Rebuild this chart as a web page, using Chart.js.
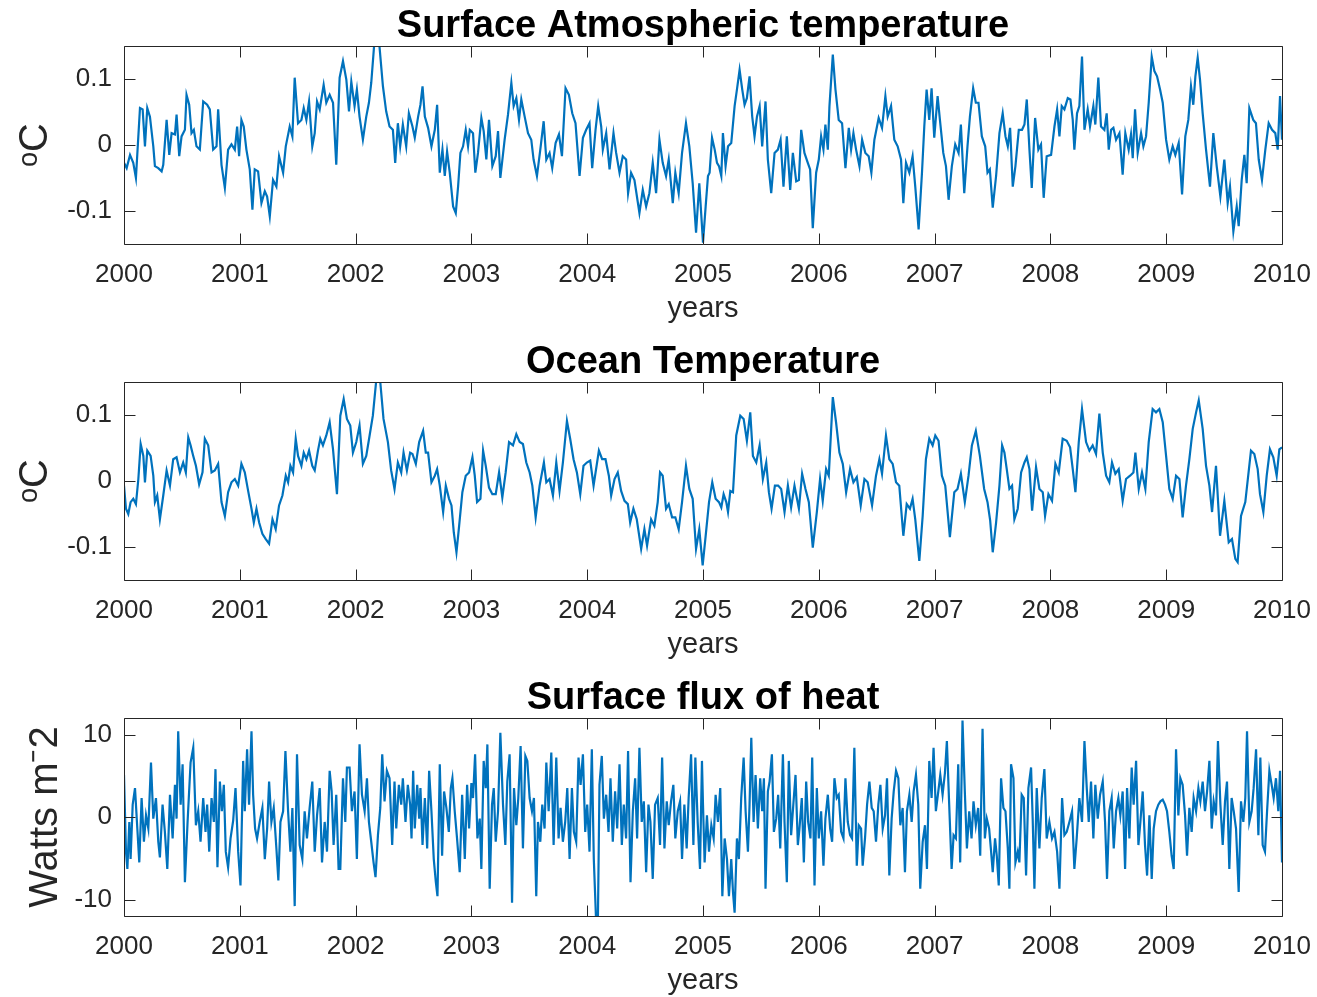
<!DOCTYPE html>
<html lang="en">
<head>
  <meta charset="UTF-8" />
  <title>Surface temperature, ocean temperature and heat flux 2000–2010</title>
  <script src="https://cdn.jsdelivr.net/npm/chart.js"></script>
  <style>
    body {
      margin: 0;
      background: #ffffff;
      width: 1317px;
      height: 997px;
      overflow: hidden;
      position: relative;
    }

    .panel {
      position: absolute;
      left: 0;
      width: 1317px;
      height: 332px;
    }
  </style>
</head>
<body>

  <div class="panel" style="top:0"><canvas id="atmChart" width="1317" height="332"></canvas></div>
  <div class="panel" style="top:336px"><canvas id="oceanChart" width="1317" height="332"></canvas></div>
  <div class="panel" style="top:672px"><canvas id="fluxChart" width="1317" height="332"></canvas></div>

  <script>
    // tick labels
    const yearTicks = [2000, 2001, 2002, 2003, 2004, 2005, 2006, 2007, 2008, 2009, 2010];
    const tempTicks = [-0.1, 0, 0.1];
    const fluxTicks = [-10, 0, 10];

    // [year, °C]
    const atmPoints = [
      [2000.000,-0.027],[2000.023,-0.035],[2000.052,-0.015],[2000.080,-0.027],[2000.103,-0.050],[2000.138,0.056],
      [2000.161,0.054],[2000.181,-0.002],[2000.201,0.056],[2000.224,0.043],[2000.253,-0.002],[2000.267,-0.032],
      [2000.296,-0.035],[2000.325,-0.040],[2000.339,-0.030],[2000.368,0.038],[2000.391,-0.015],[2000.411,0.018],
      [2000.440,0.016],[2000.454,0.046],[2000.477,-0.017],[2000.497,0.013],[2000.526,0.023],[2000.540,0.076],
      [2000.563,0.061],[2000.583,0.018],[2000.603,0.023],[2000.626,-0.002],[2000.655,-0.007],[2000.684,0.066],
      [2000.718,0.061],[2000.741,0.054],[2000.770,-0.007],[2000.799,-0.002],[2000.813,0.054],[2000.842,-0.030],
      [2000.871,-0.065],[2000.899,-0.007],[2000.928,0.001],[2000.957,-0.007],[2000.977,0.028],[2000.994,-0.017],
      [2001.014,0.038],[2001.034,0.028],[2001.057,-0.007],[2001.086,-0.037],[2001.109,-0.098],[2001.129,-0.037],
      [2001.158,-0.040],[2001.187,-0.088],[2001.216,-0.070],[2001.236,-0.078],[2001.259,-0.108],[2001.287,-0.053],
      [2001.316,-0.063],[2001.339,-0.017],[2001.374,-0.042],[2001.397,-0.002],[2001.431,0.028],[2001.454,0.013],
      [2001.474,0.102],[2001.503,0.033],[2001.532,0.038],[2001.552,0.056],[2001.575,0.038],[2001.598,0.066],
      [2001.626,-0.002],[2001.647,0.018],[2001.667,0.066],[2001.690,0.054],[2001.724,0.091],[2001.747,0.064],
      [2001.776,0.076],[2001.805,0.064],[2001.833,-0.030],[2001.862,0.102],[2001.891,0.127],[2001.920,0.099],
      [2001.943,0.051],[2001.963,0.096],[2001.991,0.059],[2002.011,0.084],[2002.034,0.043],[2002.063,0.008],
      [2002.092,0.043],[2002.115,0.064],[2002.135,0.094],[2002.164,0.160],[2002.201,0.160],[2002.236,0.089],
      [2002.264,0.051],[2002.293,0.028],[2002.322,0.023],[2002.342,-0.027],[2002.365,0.033],[2002.385,-0.002],
      [2002.408,0.031],[2002.437,-0.002],[2002.460,0.048],[2002.491,0.028],[2002.511,0.011],[2002.540,0.043],
      [2002.560,0.061],[2002.578,0.089],[2002.598,0.043],[2002.626,0.026],[2002.655,-0.002],[2002.684,0.023],
      [2002.704,0.061],[2002.727,-0.042],[2002.750,-0.007],[2002.770,-0.047],[2002.790,-0.010],[2002.813,-0.042],
      [2002.842,-0.093],[2002.865,-0.103],[2002.885,-0.063],[2002.905,-0.012],[2002.928,-0.002],[2002.951,0.023],
      [2002.971,-0.002],[2002.986,0.023],[2003.014,0.018],[2003.034,-0.042],[2003.057,-0.012],[2003.086,0.041],
      [2003.106,0.021],[2003.129,-0.022],[2003.152,0.038],[2003.181,-0.032],[2003.210,-0.017],[2003.230,0.021],
      [2003.250,-0.050],[2003.287,0.008],[2003.316,0.046],[2003.345,0.094],[2003.365,0.059],[2003.388,0.071],
      [2003.411,0.038],[2003.431,0.069],[2003.460,0.043],[2003.489,0.018],[2003.517,0.008],[2003.537,-0.022],
      [2003.566,-0.047],[2003.595,-0.007],[2003.624,0.036],[2003.647,-0.022],[2003.675,-0.012],[2003.698,-0.035],
      [2003.727,0.003],[2003.756,0.016],[2003.782,-0.017],[2003.813,0.086],[2003.842,0.076],[2003.871,0.048],
      [2003.899,0.033],[2003.934,-0.047],[2003.963,0.011],[2003.991,0.023],[2004.020,0.033],[2004.043,-0.035],
      [2004.072,0.023],[2004.095,0.059],[2004.121,0.028],[2004.135,-0.007],[2004.164,0.018],[2004.193,-0.037],
      [2004.227,0.018],[2004.250,-0.012],[2004.279,-0.042],[2004.307,-0.017],[2004.336,-0.022],[2004.353,-0.073],
      [2004.379,-0.042],[2004.408,-0.053],[2004.451,-0.103],[2004.480,-0.068],[2004.509,-0.093],[2004.537,-0.073],
      [2004.566,-0.027],[2004.595,-0.073],[2004.624,0.008],[2004.652,-0.027],[2004.681,-0.047],[2004.704,-0.022],
      [2004.739,-0.088],[2004.761,-0.042],[2004.790,-0.073],[2004.819,-0.012],[2004.853,0.033],[2004.882,-0.002],
      [2004.911,-0.058],[2004.940,-0.133],[2004.968,-0.058],[2005.000,-0.148],[2005.023,-0.093],[2005.043,-0.047],
      [2005.057,-0.042],[2005.078,0.011],[2005.101,-0.007],[2005.121,-0.027],[2005.138,-0.032],[2005.158,-0.047],
      [2005.172,0.018],[2005.195,-0.032],[2005.216,-0.002],[2005.244,0.003],[2005.273,0.059],[2005.293,0.084],
      [2005.316,0.114],[2005.339,0.084],[2005.359,0.061],[2005.379,0.071],[2005.402,0.104],[2005.425,0.043],
      [2005.445,0.013],[2005.466,0.043],[2005.489,0.059],[2005.511,-0.002],[2005.540,0.066],[2005.560,-0.022],
      [2005.589,-0.073],[2005.618,-0.012],[2005.647,-0.007],[2005.670,0.008],[2005.695,-0.063],[2005.724,0.013],
      [2005.753,-0.068],[2005.776,-0.012],[2005.805,-0.055],[2005.828,-0.053],[2005.848,0.023],[2005.876,-0.012],
      [2005.905,-0.027],[2005.925,-0.037],[2005.948,-0.126],[2005.977,-0.042],[2006.000,-0.022],[2006.020,0.013],
      [2006.040,-0.007],[2006.057,0.031],[2006.078,-0.007],[2006.092,0.059],[2006.121,0.137],[2006.144,0.084],
      [2006.172,0.038],[2006.201,0.033],[2006.230,-0.035],[2006.259,0.026],[2006.279,-0.007],[2006.299,0.018],
      [2006.322,-0.007],[2006.351,-0.032],[2006.374,0.008],[2006.402,-0.012],[2006.431,-0.017],[2006.454,-0.042],
      [2006.480,0.008],[2006.517,0.041],[2006.546,0.026],[2006.575,0.074],[2006.595,0.043],[2006.624,0.059],
      [2006.652,0.008],[2006.681,-0.002],[2006.710,-0.022],[2006.730,-0.088],[2006.753,-0.027],[2006.782,-0.042],
      [2006.810,-0.017],[2006.833,-0.063],[2006.862,-0.128],[2006.891,-0.042],[2006.911,0.028],[2006.931,0.084],
      [2006.954,0.038],[2006.974,0.086],[2006.997,0.011],[2007.026,0.074],[2007.046,0.038],[2007.075,-0.012],
      [2007.098,-0.032],[2007.121,-0.083],[2007.149,-0.032],[2007.178,0.001],[2007.207,-0.012],[2007.227,0.031],
      [2007.256,-0.073],[2007.284,-0.002],[2007.305,0.043],[2007.333,0.086],[2007.356,0.064],[2007.379,0.064],
      [2007.408,0.013],[2007.437,-0.002],[2007.457,-0.042],[2007.477,-0.037],[2007.502,-0.095],[2007.531,-0.047],
      [2007.560,0.018],[2007.588,0.048],[2007.612,0.013],[2007.632,-0.002],[2007.652,0.026],[2007.675,-0.063],
      [2007.698,-0.032],[2007.727,0.023],[2007.755,0.023],[2007.776,0.031],[2007.796,0.069],[2007.819,-0.007],
      [2007.839,-0.065],[2007.868,0.041],[2007.896,-0.007],[2007.919,0.001],[2007.942,-0.080],[2007.968,-0.017],
      [2008.006,-0.015],[2008.035,0.028],[2008.058,0.054],[2008.078,0.013],[2008.098,0.059],[2008.121,0.054],
      [2008.150,0.071],[2008.173,0.069],[2008.193,0.038],[2008.207,-0.007],[2008.230,0.048],[2008.250,0.059],
      [2008.273,0.134],[2008.294,0.023],[2008.322,0.054],[2008.342,0.028],[2008.371,0.059],[2008.388,0.031],
      [2008.414,0.102],[2008.437,0.028],[2008.466,0.023],[2008.486,0.048],[2008.504,-0.007],[2008.524,0.023],
      [2008.544,0.026],[2008.567,0.008],[2008.596,0.018],[2008.624,-0.045],[2008.647,0.018],[2008.676,-0.007],
      [2008.696,0.016],[2008.711,-0.020],[2008.731,0.054],[2008.754,-0.012],[2008.783,0.018],[2008.803,-0.002],
      [2008.826,0.013],[2008.849,0.064],[2008.875,0.134],[2008.898,0.112],[2008.921,0.104],[2008.947,0.084],
      [2008.970,0.064],[2008.999,0.008],[2009.027,-0.022],[2009.056,-0.002],[2009.079,-0.015],[2009.108,0.003],
      [2009.137,-0.075],[2009.165,0.013],[2009.191,0.038],[2009.214,0.089],[2009.234,0.061],[2009.252,0.104],
      [2009.272,0.132],[2009.292,0.099],[2009.315,0.048],[2009.344,-0.007],[2009.378,-0.063],[2009.407,0.018],
      [2009.436,-0.032],[2009.468,-0.078],[2009.502,-0.022],[2009.531,-0.088],[2009.551,-0.063],[2009.580,-0.131],
      [2009.609,-0.093],[2009.626,-0.123],[2009.652,-0.053],[2009.675,-0.015],[2009.695,-0.058],[2009.718,0.056],
      [2009.752,0.038],[2009.775,0.033],[2009.799,-0.022],[2009.827,-0.053],[2009.856,-0.007],[2009.885,0.033],
      [2009.914,0.023],[2009.942,0.018],[2009.963,-0.007],[2009.983,0.074],[2010.000,0.008]
    ];

    // [year, °C]
    const oceanPoints = [
      [2000.000,-0.007],[2000.017,-0.042],[2000.037,-0.050],[2000.057,-0.032],[2000.080,-0.027],[2000.103,-0.035],
      [2000.124,0.003],[2000.144,0.056],[2000.167,0.038],[2000.181,-0.002],[2000.201,0.046],[2000.230,0.038],
      [2000.253,0.008],[2000.267,-0.032],[2000.287,-0.022],[2000.310,-0.058],[2000.339,-0.022],[2000.368,0.016],
      [2000.397,-0.007],[2000.425,0.033],[2000.454,0.036],[2000.483,0.013],[2000.511,0.028],[2000.534,0.013],
      [2000.555,0.066],[2000.575,0.054],[2000.598,0.038],[2000.621,0.023],[2000.649,-0.005],[2000.678,0.013],
      [2000.698,0.064],[2000.727,0.054],[2000.756,0.013],[2000.784,0.016],[2000.813,0.026],[2000.842,-0.032],
      [2000.871,-0.053],[2000.899,-0.017],[2000.928,-0.002],[2000.957,0.003],[2000.986,-0.007],[2001.014,0.026],
      [2001.043,0.013],[2001.072,-0.015],[2001.101,-0.042],[2001.121,-0.063],[2001.144,-0.042],[2001.167,-0.063],
      [2001.195,-0.080],[2001.224,-0.088],[2001.253,-0.095],[2001.282,-0.058],[2001.310,-0.073],[2001.339,-0.037],
      [2001.368,-0.022],[2001.397,0.008],[2001.417,-0.002],[2001.437,0.023],[2001.460,0.013],[2001.483,0.064],
      [2001.503,0.038],[2001.532,0.023],[2001.552,0.043],[2001.575,0.033],[2001.598,0.046],[2001.626,0.023],
      [2001.647,0.016],[2001.675,0.046],[2001.695,0.064],[2001.718,0.054],[2001.747,0.069],[2001.776,0.089],
      [2001.805,0.048],[2001.839,-0.020],[2001.868,0.099],[2001.897,0.124],[2001.925,0.094],[2001.954,0.084],
      [2001.977,0.043],[2002.006,0.059],[2002.034,0.084],[2002.063,0.026],[2002.092,0.038],[2002.121,0.069],
      [2002.149,0.099],[2002.178,0.152],[2002.213,0.150],[2002.241,0.094],[2002.279,0.059],[2002.307,0.016],
      [2002.336,-0.012],[2002.365,0.028],[2002.394,0.013],[2002.414,0.043],[2002.443,0.016],[2002.471,0.043],
      [2002.491,0.041],[2002.520,0.026],[2002.549,0.059],[2002.583,0.076],[2002.606,0.043],[2002.626,0.043],
      [2002.655,-0.002],[2002.684,0.008],[2002.704,0.018],[2002.727,-0.007],[2002.756,-0.047],[2002.779,-0.007],
      [2002.807,-0.027],[2002.828,-0.037],[2002.848,-0.078],[2002.871,-0.108],[2002.894,-0.068],[2002.922,-0.017],
      [2002.951,0.008],[2002.980,0.013],[2003.009,0.036],[2003.029,0.008],[2003.049,-0.032],[2003.078,-0.027],
      [2003.101,0.046],[2003.124,0.023],[2003.152,-0.010],[2003.181,-0.020],[2003.210,-0.020],[2003.239,0.013],
      [2003.267,-0.025],[2003.296,0.013],[2003.325,0.059],[2003.359,0.054],[2003.388,0.071],[2003.417,0.059],
      [2003.445,0.056],[2003.474,0.028],[2003.503,0.013],[2003.526,-0.007],[2003.555,-0.055],[2003.589,-0.007],
      [2003.626,0.028],[2003.647,-0.002],[2003.675,0.003],[2003.704,-0.022],[2003.733,0.028],[2003.761,-0.015],
      [2003.790,0.028],[2003.825,0.091],[2003.853,0.064],[2003.882,0.033],[2003.911,0.013],[2003.940,-0.020],
      [2003.968,0.023],[2003.997,0.028],[2004.026,0.031],[2004.055,-0.007],[2004.101,0.046],[2004.129,0.033],
      [2004.158,0.033],[2004.187,0.008],[2004.207,-0.022],[2004.236,0.003],[2004.264,0.013],[2004.293,-0.015],
      [2004.322,-0.030],[2004.351,-0.035],[2004.371,-0.063],[2004.399,-0.042],[2004.428,-0.058],[2004.466,-0.103],
      [2004.494,-0.073],[2004.517,-0.098],[2004.552,-0.058],[2004.580,-0.068],[2004.609,-0.032],[2004.629,0.013],
      [2004.652,0.008],[2004.681,-0.042],[2004.704,-0.035],[2004.733,-0.055],[2004.761,-0.055],[2004.790,-0.073],
      [2004.819,-0.032],[2004.853,0.023],[2004.882,-0.012],[2004.911,-0.027],[2004.940,-0.103],[2004.968,-0.073],
      [2004.997,-0.128],[2005.023,-0.083],[2005.052,-0.032],[2005.080,-0.002],[2005.109,-0.027],[2005.138,-0.032],
      [2005.158,-0.040],[2005.178,-0.020],[2005.201,-0.032],[2005.216,-0.047],[2005.236,-0.015],[2005.259,-0.017],
      [2005.287,0.069],[2005.322,0.099],[2005.351,0.094],[2005.379,0.061],[2005.408,0.104],[2005.431,0.038],
      [2005.460,0.028],[2005.489,0.054],[2005.517,0.003],[2005.546,0.028],[2005.569,-0.017],[2005.592,-0.042],
      [2005.621,-0.007],[2005.649,-0.007],[2005.675,-0.012],[2005.704,-0.047],[2005.733,-0.007],[2005.761,-0.040],
      [2005.790,-0.007],[2005.828,-0.042],[2005.856,0.011],[2005.885,-0.012],[2005.914,-0.032],[2005.948,-0.101],
      [2005.983,-0.047],[2006.011,0.003],[2006.034,-0.030],[2006.063,0.018],[2006.086,0.008],[2006.121,0.127],
      [2006.149,0.089],[2006.178,0.043],[2006.207,0.026],[2006.236,-0.017],[2006.270,0.018],[2006.299,-0.002],
      [2006.328,0.006],[2006.362,-0.037],[2006.394,0.003],[2006.422,-0.002],[2006.460,-0.037],[2006.494,0.008],
      [2006.523,0.033],[2006.546,0.011],[2006.580,0.069],[2006.609,0.033],[2006.638,0.026],[2006.667,-0.002],
      [2006.695,-0.007],[2006.730,-0.083],[2006.759,-0.035],[2006.787,-0.042],[2006.810,-0.027],[2006.833,-0.058],
      [2006.868,-0.121],[2006.897,-0.053],[2006.925,0.033],[2006.954,0.064],[2006.983,0.054],[2007.006,0.069],
      [2007.034,0.061],[2007.063,0.008],[2007.092,-0.007],[2007.132,-0.085],[2007.170,-0.017],[2007.198,-0.012],
      [2007.227,0.011],[2007.261,-0.032],[2007.293,0.008],[2007.322,0.054],[2007.356,0.076],[2007.391,0.038],
      [2007.428,-0.012],[2007.457,-0.032],[2007.480,-0.060],[2007.502,-0.108],[2007.531,-0.063],[2007.560,-0.007],
      [2007.583,0.054],[2007.603,0.043],[2007.623,0.018],[2007.646,-0.012],[2007.669,-0.007],[2007.689,-0.058],
      [2007.718,-0.042],[2007.747,0.013],[2007.776,0.028],[2007.796,0.036],[2007.819,0.018],[2007.842,-0.045],
      [2007.876,0.021],[2007.905,-0.012],[2007.934,-0.017],[2007.954,-0.053],[2007.983,-0.020],[2008.014,-0.030],
      [2008.043,0.026],[2008.072,0.013],[2008.106,0.064],[2008.141,0.061],[2008.170,0.051],[2008.193,0.018],
      [2008.216,-0.017],[2008.245,0.059],[2008.273,0.109],[2008.308,0.059],[2008.337,0.046],[2008.365,0.054],
      [2008.394,0.041],[2008.423,0.102],[2008.452,0.043],[2008.481,0.008],[2008.509,-0.002],[2008.532,0.028],
      [2008.561,0.011],[2008.590,0.018],[2008.624,-0.030],[2008.653,0.003],[2008.688,0.008],[2008.717,0.013],
      [2008.734,0.043],[2008.763,-0.012],[2008.791,0.013],[2008.820,-0.012],[2008.849,0.059],[2008.883,0.109],
      [2008.912,0.104],[2008.941,0.109],[2008.970,0.089],[2008.999,0.038],[2009.027,-0.012],[2009.056,-0.027],
      [2009.085,0.008],[2009.114,0.003],[2009.142,-0.055],[2009.171,-0.007],[2009.200,0.033],[2009.229,0.079],
      [2009.258,0.104],[2009.281,0.122],[2009.315,0.079],[2009.344,0.023],[2009.373,-0.007],[2009.396,-0.047],
      [2009.430,0.023],[2009.465,-0.083],[2009.502,-0.030],[2009.540,-0.093],[2009.568,-0.088],[2009.597,-0.118],
      [2009.617,-0.123],[2009.646,-0.053],[2009.683,-0.032],[2009.732,0.046],[2009.761,0.041],[2009.790,0.018],
      [2009.810,-0.020],[2009.839,-0.047],[2009.868,0.008],[2009.896,0.048],[2009.925,0.036],[2009.954,0.008],
      [2009.977,0.048],[2010.000,0.051]
    ];

    // [year, W m-2]
    const fluxPoints = [
      [2000.000,5.1],[2000.017,-4.2],[2000.029,-6.3],[2000.046,-0.6],[2000.057,-5.1],[2000.075,1.5],[2000.095,3.5],
      [2000.115,-1.4],[2000.132,-5.5],[2000.152,2.3],[2000.172,-3.0],[2000.190,0.2],[2000.210,-1.4],[2000.233,6.6],
      [2000.253,-0.2],[2000.276,2.3],[2000.296,-3.0],[2000.310,-4.9],[2000.333,1.5],[2000.353,-1.8],[2000.374,-6.3],
      [2000.397,2.7],[2000.420,-2.6],[2000.440,3.9],[2000.454,-0.2],[2000.468,10.4],[2000.489,1.5],[2000.506,6.4],
      [2000.526,-7.9],[2000.549,-0.6],[2000.575,6.6],[2000.598,8.4],[2000.621,-1.0],[2000.641,0.7],[2000.661,-3.0],
      [2000.684,2.3],[2000.704,-1.8],[2000.718,1.5],[2000.736,-4.2],[2000.756,2.3],[2000.776,-0.6],[2000.790,5.8],
      [2000.807,-6.1],[2000.828,4.3],[2000.845,0.7],[2000.862,3.9],[2000.879,-4.2],[2000.899,-6.1],[2000.920,-2.6],
      [2000.943,-0.4],[2000.963,3.5],[2000.986,-4.2],[2001.006,-8.3],[2001.029,6.8],[2001.043,0.7],[2001.063,8.2],
      [2001.080,1.5],[2001.101,10.4],[2001.115,2.7],[2001.132,-1.4],[2001.149,-2.6],[2001.172,-0.6],[2001.195,1.1],
      [2001.216,-5.1],[2001.236,-1.4],[2001.253,4.3],[2001.273,-0.6],[2001.293,1.1],[2001.316,-3.8],[2001.333,-7.7],
      [2001.351,-0.6],[2001.374,0.7],[2001.394,8.0],[2001.417,0.7],[2001.437,-4.2],[2001.454,1.1],[2001.474,-10.8],
      [2001.494,7.6],[2001.517,-3.4],[2001.540,-5.1],[2001.560,0.7],[2001.580,-2.6],[2001.603,1.1],[2001.626,4.3],
      [2001.647,-4.2],[2001.667,0.2],[2001.690,3.5],[2001.710,-5.5],[2001.733,-0.6],[2001.753,-4.2],[2001.776,5.6],
      [2001.793,3.1],[2001.810,-3.4],[2001.833,2.7],[2001.853,-6.3],[2001.868,-6.3],[2001.891,4.7],[2001.911,-0.6],
      [2001.925,6.0],[2001.948,6.0],[2001.968,0.7],[2001.991,3.1],[2002.011,-5.1],[2002.034,8.8],[2002.055,2.7],
      [2002.078,0.7],[2002.098,4.7],[2002.115,-0.6],[2002.135,-3.0],[2002.155,-5.5],[2002.172,-7.3],[2002.193,-2.2],
      [2002.213,1.1],[2002.230,7.6],[2002.250,1.9],[2002.270,5.6],[2002.293,4.7],[2002.316,-3.4],[2002.336,4.3],
      [2002.351,-1.4],[2002.374,3.9],[2002.394,1.5],[2002.408,4.7],[2002.431,-0.6],[2002.451,3.9],[2002.471,1.5],
      [2002.483,-2.6],[2002.497,5.6],[2002.511,-1.4],[2002.532,3.9],[2002.549,-0.2],[2002.560,3.5],[2002.578,-3.4],
      [2002.598,2.3],[2002.618,-3.8],[2002.635,5.6],[2002.655,0.7],[2002.675,-5.1],[2002.693,-7.9],[2002.707,-9.6],
      [2002.727,6.4],[2002.747,-4.7],[2002.764,3.1],[2002.784,1.1],[2002.805,-1.8],[2002.822,3.5],[2002.836,4.7],
      [2002.856,0.7],[2002.876,-2.6],[2002.899,-6.7],[2002.920,2.7],[2002.943,-5.1],[2002.963,3.9],[2002.980,-1.4],
      [2003.000,4.1],[2003.014,2.3],[2003.032,7.6],[2003.052,-2.6],[2003.072,-0.2],[2003.086,-6.3],[2003.106,6.8],
      [2003.124,3.5],[2003.138,8.8],[2003.158,-8.7],[2003.178,1.5],[2003.193,3.5],[2003.210,-3.0],[2003.230,0.7],
      [2003.250,10.2],[2003.273,1.5],[2003.293,-3.4],[2003.310,4.3],[2003.330,7.6],[2003.351,-10.4],[2003.368,3.5],
      [2003.388,-1.0],[2003.405,2.3],[2003.425,8.6],[2003.445,-3.8],[2003.466,7.4],[2003.483,6.8],[2003.503,2.3],
      [2003.523,0.7],[2003.540,2.3],[2003.560,-9.6],[2003.575,-0.6],[2003.595,-3.0],[2003.612,1.5],[2003.632,-1.4],
      [2003.647,6.6],[2003.667,0.7],[2003.690,7.8],[2003.710,-3.4],[2003.733,7.2],[2003.753,-2.6],[2003.770,1.1],
      [2003.790,-3.0],[2003.810,-0.6],[2003.828,3.5],[2003.848,-5.1],[2003.868,3.5],[2003.885,-1.8],[2003.905,-3.0],
      [2003.925,7.2],[2003.943,3.9],[2003.963,7.6],[2003.983,-1.8],[2004.000,1.5],[2004.020,-4.2],[2004.040,8.2],
      [2004.057,-5.1],[2004.078,-13.0],[2004.092,-13.0],[2004.106,3.9],[2004.126,7.4],[2004.144,-0.2],[2004.164,2.7],
      [2004.184,-1.8],[2004.201,4.7],[2004.221,-3.0],[2004.241,3.1],[2004.259,-1.4],[2004.279,6.4],[2004.299,-3.4],
      [2004.316,1.5],[2004.336,-2.6],[2004.353,8.0],[2004.374,-7.9],[2004.394,0.7],[2004.414,4.7],[2004.431,-2.6],
      [2004.451,8.4],[2004.471,-0.6],[2004.489,1.9],[2004.509,-6.7],[2004.529,1.5],[2004.546,-0.6],[2004.566,-7.5],
      [2004.586,1.5],[2004.609,2.3],[2004.629,-3.4],[2004.647,7.2],[2004.667,-3.8],[2004.687,1.9],[2004.704,-1.0],
      [2004.724,1.9],[2004.744,3.9],[2004.761,-2.6],[2004.782,0.7],[2004.802,1.9],[2004.819,-5.1],[2004.839,1.5],
      [2004.859,-3.8],[2004.876,2.3],[2004.897,7.6],[2004.917,-3.4],[2004.934,7.2],[2004.954,-0.6],[2004.974,-6.3],
      [2004.991,6.8],[2005.000,1.5],[2005.014,-5.5],[2005.034,0.2],[2005.052,-4.2],[2005.072,-1.0],[2005.092,-2.6],
      [2005.109,2.7],[2005.129,-0.6],[2005.149,3.5],[2005.167,-9.6],[2005.187,-2.6],[2005.207,-5.1],[2005.224,-9.6],
      [2005.244,-5.1],[2005.259,-9.1],[2005.273,-11.6],[2005.293,-2.6],[2005.310,-5.1],[2005.330,2.3],[2005.351,7.2],
      [2005.368,0.7],[2005.388,-4.2],[2005.402,1.5],[2005.417,9.6],[2005.437,-0.6],[2005.454,5.1],[2005.474,-1.4],
      [2005.494,4.7],[2005.511,0.7],[2005.526,4.7],[2005.540,-8.7],[2005.560,3.1],[2005.575,4.3],[2005.595,7.6],
      [2005.612,-1.8],[2005.632,-0.2],[2005.649,2.7],[2005.667,-3.8],[2005.690,7.6],[2005.704,-0.6],[2005.724,-7.9],
      [2005.741,6.8],[2005.761,-2.2],[2005.782,1.9],[2005.799,5.1],[2005.819,-3.4],[2005.833,-1.4],[2005.853,2.3],
      [2005.871,-5.5],[2005.891,4.3],[2005.908,-0.6],[2005.928,-2.6],[2005.943,7.2],[2005.963,-8.3],[2005.983,3.5],
      [2006.000,-2.6],[2006.020,0.7],[2006.040,-5.9],[2006.057,-0.2],[2006.078,2.7],[2006.098,-1.4],[2006.115,-3.0],
      [2006.135,4.7],[2006.155,2.3],[2006.172,2.7],[2006.193,-1.8],[2006.213,-2.6],[2006.230,4.7],[2006.250,-0.6],
      [2006.270,-2.2],[2006.287,-2.6],[2006.307,8.4],[2006.328,-5.9],[2006.345,-1.0],[2006.365,-1.4],[2006.379,-5.9],
      [2006.399,-2.6],[2006.417,1.5],[2006.437,4.3],[2006.457,1.1],[2006.474,0.7],[2006.494,-3.0],[2006.514,1.5],
      [2006.532,3.9],[2006.552,-1.4],[2006.572,0.2],[2006.589,4.7],[2006.609,-7.1],[2006.629,-0.2],[2006.647,3.1],
      [2006.667,5.6],[2006.687,4.7],[2006.704,-1.0],[2006.724,1.1],[2006.744,-6.7],[2006.761,0.7],[2006.782,2.7],
      [2006.802,-0.6],[2006.819,3.1],[2006.839,5.1],[2006.859,1.5],[2006.876,-8.7],[2006.897,-3.0],[2006.917,-1.0],
      [2006.934,-6.3],[2006.954,6.8],[2006.974,2.3],[2006.991,8.4],[2007.011,0.7],[2007.032,3.1],[2007.049,5.1],
      [2007.069,2.7],[2007.089,5.3],[2007.106,9.2],[2007.126,1.5],[2007.147,-6.3],[2007.164,-2.2],[2007.184,-2.6],
      [2007.204,6.4],[2007.221,-5.5],[2007.241,11.7],[2007.261,3.1],[2007.279,-3.8],[2007.299,0.7],[2007.319,-2.6],
      [2007.336,1.9],[2007.356,-1.0],[2007.376,1.1],[2007.394,-4.7],[2007.414,10.7],[2007.434,-2.6],[2007.451,-0.2],
      [2007.471,-1.4],[2007.488,-4.2],[2007.502,-6.7],[2007.522,-2.6],[2007.537,-4.7],[2007.554,-8.3],[2007.574,4.7],
      [2007.594,1.1],[2007.612,0.7],[2007.632,-3.8],[2007.646,-8.7],[2007.660,6.4],[2007.681,4.7],[2007.698,-5.5],
      [2007.718,-4.2],[2007.732,-5.5],[2007.752,2.7],[2007.770,2.3],[2007.790,-7.1],[2007.810,3.5],[2007.833,6.0],
      [2007.847,-0.2],[2007.862,-8.7],[2007.882,3.5],[2007.905,-3.8],[2007.925,2.3],[2007.948,5.8],[2007.968,-2.6],
      [2007.991,-0.6],[2008.014,-2.6],[2008.035,-1.8],[2008.058,-4.2],[2008.078,-8.7],[2008.101,2.3],[2008.121,-2.2],
      [2008.141,-1.8],[2008.164,-0.6],[2008.187,0.7],[2008.207,-6.3],[2008.227,-2.6],[2008.250,2.3],[2008.273,-0.6],
      [2008.294,9.2],[2008.314,3.5],[2008.331,-0.6],[2008.351,4.3],[2008.371,-2.6],[2008.388,3.9],[2008.409,-0.2],
      [2008.429,2.7],[2008.452,4.3],[2008.472,-0.6],[2008.489,-7.5],[2008.509,0.7],[2008.529,2.3],[2008.547,-3.8],
      [2008.567,0.7],[2008.587,2.3],[2008.604,0.2],[2008.624,3.1],[2008.645,-6.3],[2008.662,3.5],[2008.682,-2.6],
      [2008.702,6.0],[2008.719,1.5],[2008.740,6.8],[2008.760,-3.4],[2008.777,-0.6],[2008.797,3.1],[2008.817,-3.4],
      [2008.835,-7.1],[2008.855,0.2],[2008.875,-7.5],[2008.892,-1.4],[2008.912,0.7],[2008.932,1.5],[2008.950,1.9],
      [2008.970,2.1],[2008.990,1.5],[2009.007,0.7],[2009.027,-1.8],[2009.047,-4.7],[2009.065,-6.3],[2009.085,8.2],
      [2009.105,0.2],[2009.122,4.7],[2009.142,3.9],[2009.163,0.2],[2009.180,-4.7],[2009.200,1.1],[2009.220,-1.8],
      [2009.237,2.3],[2009.258,0.7],[2009.278,3.5],[2009.295,1.9],[2009.315,4.3],[2009.335,0.7],[2009.353,3.1],
      [2009.373,6.8],[2009.393,-1.4],[2009.410,1.9],[2009.430,0.2],[2009.447,9.2],[2009.468,1.5],[2009.488,-3.4],
      [2009.508,1.9],[2009.525,4.3],[2009.545,-6.3],[2009.565,2.3],[2009.583,0.7],[2009.603,-1.4],[2009.626,-9.1],
      [2009.646,1.9],[2009.666,-0.6],[2009.683,2.3],[2009.698,10.4],[2009.718,-0.6],[2009.738,0.7],[2009.755,3.5],
      [2009.776,8.2],[2009.796,-2.2],[2009.813,7.2],[2009.833,-3.4],[2009.853,-4.2],[2009.871,0.7],[2009.891,5.6],
      [2009.911,3.9],[2009.928,2.3],[2009.948,4.7],[2009.968,0.7],[2009.983,5.6],[2010.000,-5.5]
    ];

    const FONT = "'Liberation Sans', Arial, Helvetica, sans-serif";
    const AXIS = '#262626';
    const LINE = '#0072BD';

    // MATLAB style: box round the axes, ticks pointing inwards on all four sides
    const boxTicks = {
      id: 'boxTicks',
      afterDatasetsDraw(chart) {
        const { ctx, chartArea: a, scales: { x, y } } = chart;
        const len = 11;
        const L = Math.round(a.left) + 0.5, R = Math.round(a.right) + 0.5;
        const T = Math.round(a.top) + 0.5, B = Math.round(a.bottom) + 0.5;
        ctx.save();
        ctx.strokeStyle = AXIS;
        ctx.lineWidth = 1;
        ctx.beginPath();
        ctx.rect(L, T, R - L, B - T);
        x.ticks.forEach(t => {
          const px = Math.round(x.getPixelForValue(t.value)) + 0.5;
          ctx.moveTo(px, B); ctx.lineTo(px, B - len);
          ctx.moveTo(px, T); ctx.lineTo(px, T + len);
        });
        y.ticks.forEach(t => {
          const py = Math.round(y.getPixelForValue(t.value)) + 0.5;
          ctx.moveTo(L, py); ctx.lineTo(L + len, py);
          ctx.moveTo(R, py); ctx.lineTo(R - len, py);
        });
        ctx.stroke();
        ctx.restore();
      }
    };

    // title centred over the plot box, as MATLAB does it
    const panelTitle = {
      id: 'panelTitle',
      afterDraw(chart, args, opts) {
        const { ctx, chartArea: a } = chart;
        ctx.save();
        ctx.font = 'bold 38px ' + FONT;
        ctx.fillStyle = '#000';
        ctx.textAlign = 'center';
        ctx.textBaseline = 'alphabetic';
        ctx.fillText(opts.text, (a.left + a.right) / 2, 37);
        ctx.restore();
      }
    };

    function makePanel(id, points, yMin, yMax, yTicks, title, yLabel, yLabelPad) {
      return new Chart(document.getElementById(id), {
        type: 'line',
        data: {
          datasets: [{
            data: points.map(p => ({ x: p[0], y: p[1] })),
            borderColor: LINE,
            borderWidth: 2.2,
            pointRadius: 0,
            tension: 0
          }]
        },
        options: {
          responsive: false,
          animation: false,
          layout: { padding: { left: 0, right: 35, top: 46, bottom: 0 } },
          plugins: {
            legend: { display: false },
            tooltip: { enabled: false },
            title: { display: false },
            panelTitle: { text: title }
          },
          scales: {
            x: {
              type: 'linear',
              min: 2000,
              max: 2010,
              grid: { display: false, drawTicks: false },
              border: { display: false },
              afterBuildTicks: s => { s.ticks = yearTicks.map(v => ({ value: v })); },
              afterFit: s => { s.height = 88; s.paddingLeft = 0; s.paddingRight = 0; },
              ticks: {
                color: AXIS,
                font: { family: FONT, size: 26 },
                padding: 15,
                maxRotation: 0,
                autoSkip: false,
                callback: v => String(v)
              },
              title: {
                display: true,
                text: 'years',
                color: AXIS,
                font: { family: FONT, size: 29 },
                padding: { top: 0, bottom: 6 }
              }
            },
            y: {
              min: yMin,
              max: yMax,
              grid: { display: false, drawTicks: false },
              border: { display: false },
              afterBuildTicks: s => { s.ticks = yTicks.map(v => ({ value: v })); },
              afterFit: s => { s.width = 124; s.paddingTop = 0; s.paddingBottom = 0; },
              ticks: {
                color: AXIS,
                font: { family: FONT, size: 26 },
                padding: 12,
                callback: v => String(v)
              },
              title: {
                display: true,
                text: yLabel,
                color: AXIS,
                font: { family: FONT, size: 40 },
                padding: { top: yLabelPad, bottom: 0 }
              }
            }
          }
        },
        plugins: [boxTicks, panelTitle]
      });
    }

    makePanel('atmChart', atmPoints, -0.15, 0.15, tempTicks, 'Surface Atmospheric temperature', 'ᵒC', 12);
    makePanel('oceanChart', oceanPoints, -0.15, 0.15, tempTicks, 'Ocean Temperature', 'ᵒC', 12);
    makePanel('fluxChart', fluxPoints, -12, 12, fluxTicks, 'Surface flux of heat', 'Watts m⁻2', 22);
  </script>
</body>
</html>
